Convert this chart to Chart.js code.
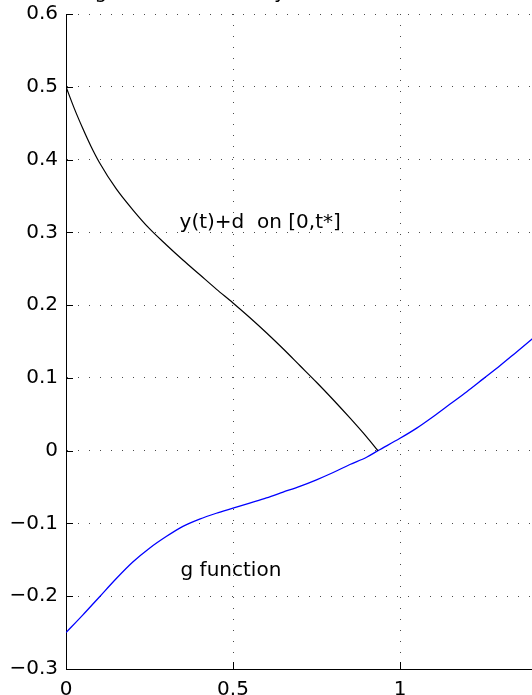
<!DOCTYPE html>
<html>
<head>
<meta charset="utf-8">
<script src="https://cdn.jsdelivr.net/npm/chart.js@4/dist/chart.umd.min.js"></script>
<style>
  html, body { margin: 0; padding: 0; background: #fff; overflow: hidden; width: 532px; height: 695px; }
  #wrap { position: relative; width: 532px; height: 695px; overflow: hidden; }
  #c { position: absolute; left: 0; top: -20px; }
</style>
</head>
<body>
<div id="wrap"><canvas id="c" width="540" height="715"></canvas></div>
<script>
// y(t)+d on [0, t*]
const yCurveT = [0, 0.025, 0.05, 0.075, 0.1, 0.15, 0.2, 0.25, 0.3, 0.35, 0.4, 0.45, 0.5,
                 0.55, 0.6, 0.65, 0.7, 0.75, 0.8, 0.85, 0.9, 0.934];
const yCurveV = [0.5, 0.47, 0.443, 0.418, 0.396, 0.36, 0.331, 0.305, 0.283, 0.262, 0.242, 0.222, 0.203,
                 0.183, 0.162, 0.14, 0.117, 0.094, 0.07, 0.045, 0.019, 0];

// g function
const gCurveT = [0, 0.05, 0.1, 0.15, 0.2, 0.25, 0.3, 0.35, 0.4, 0.45, 0.5, 0.55, 0.6, 0.65,
                 0.7, 0.75, 0.8, 0.85, 0.9, 0.934, 1.0, 1.05, 1.1, 1.15, 1.2, 1.25, 1.3, 1.35, 1.4];
const gCurveV = [-0.25, -0.226, -0.201, -0.176, -0.153, -0.134, -0.118, -0.104, -0.094, -0.086, -0.079, -0.072, -0.065, -0.057,
                 -0.049, -0.04, -0.03, -0.019, -0.009, 0, 0.017, 0.031, 0.047, 0.064, 0.081, 0.099, 0.117, 0.136, 0.155];

// axis ticks
const xTickValues = [0, 0.5, 1];
const xTickLabels = ['0', '0.5', '1'];
const yTickValues = [-0.3, -0.2, -0.1, 0, 0.1, 0.2, 0.3, 0.4, 0.5, 0.6];
const yTickLabels = ['\u22120.3', '\u22120.2', '\u22120.1', '0', '0.1', '0.2', '0.3', '0.4', '0.5', '0.6'];

// text drawn inside the axes
const curveLabels = ['y(t)+d  on [0,t*]', 'g function'];
const titleText = 'The g function versus y';

const FONT = '"DejaVu Sans", sans-serif';
const labelAnchors = [[0.34, 0.306], [0.343, -0.172]];

const pairs = (ts, vs) => ts.map((t, i) => ({ x: t, y: vs[i] }));

const overlay = {
  id: 'overlay',
  afterDatasetsDraw(chart) {
    const { ctx, chartArea: a, scales: { x, y } } = chart;
    ctx.save();
    // inward tick marks on the left and bottom axes
    ctx.strokeStyle = '#000';
    ctx.lineWidth = 1;
    ctx.beginPath();
    yTickValues.forEach(v => {
      const py = Math.round(y.getPixelForValue(v)) + 0.5;
      ctx.moveTo(a.left, py); ctx.lineTo(a.left + 7, py);
    });
    xTickValues.forEach(v => {
      const px = Math.round(x.getPixelForValue(v)) + 0.5;
      ctx.moveTo(px, a.bottom); ctx.lineTo(px, a.bottom - 7);
    });
    ctx.stroke();
    // curve labels
    ctx.fillStyle = '#000';
    ctx.font = '20px ' + FONT;
    ctx.textAlign = 'left';
    ctx.textBaseline = 'alphabetic';
    curveLabels.forEach((t, i) => {
      ctx.fillText(t, x.getPixelForValue(labelAnchors[i][0]), y.getPixelForValue(labelAnchors[i][1]));
    });
    // title, mostly above the visible area
    ctx.fillText(titleText, 51, 18.4);
    ctx.restore();
  }
};

new Chart(document.getElementById('c'), {
  type: 'scatter',
  data: {
    datasets: [
      {
        label: curveLabels[0],
        data: pairs(yCurveT, yCurveV),
        showLine: true,
        borderColor: '#000000',
        borderWidth: 1.2,
        pointRadius: 0,
        cubicInterpolationMode: 'monotone'
      },
      {
        label: curveLabels[1],
        data: pairs(gCurveT, gCurveV),
        showLine: true,
        borderColor: '#0000ff',
        borderWidth: 1.3,
        pointRadius: 0,
        cubicInterpolationMode: 'monotone'
      }
    ]
  },
  options: {
    responsive: false,
    devicePixelRatio: 1,
    animation: false,
    layout: { padding: { top: 34, right: 6.4, left: 0, bottom: 0 } },
    plugins: { legend: { display: false }, tooltip: { enabled: false }, title: { display: false } },
    scales: {
      x: {
        type: 'linear',
        min: 0, max: 1.4,
        afterBuildTicks: s => { s.ticks = xTickValues.map(v => ({ value: v })); },
        afterFit: s => { s.height = 26; },
        ticks: {
          padding: 9,
          color: '#000',
          font: { family: FONT, size: 20 },
          maxRotation: 0,
          autoSkip: false,
          callback: (v) => xTickLabels[xTickValues.indexOf(v)]
        },
        grid: { color: '#4a4a4a', lineWidth: 1, drawTicks: false },
        border: { display: true, color: '#000', width: 1, dash: [1, 10] }
      },
      y: {
        type: 'linear',
        min: -0.3, max: 0.6,
        afterBuildTicks: s => { s.ticks = yTickValues.map(v => ({ value: v })); },
        afterFit: s => { s.width = 66; },
        ticks: {
          padding: 8,
          color: '#000',
          font: { family: FONT, size: 20 },
          autoSkip: false,
          callback: (v) => {
            const i = yTickValues.findIndex(t => Math.abs(t - v) < 1e-9);
            return i >= 0 ? yTickLabels[i] : '';
          }
        },
        grid: { color: '#4a4a4a', lineWidth: 1, drawTicks: false },
        border: { display: true, color: '#000', width: 1, dash: [1, 10] }
      }
    }
  },
  plugins: [overlay]
});
</script>
</body>
</html>
